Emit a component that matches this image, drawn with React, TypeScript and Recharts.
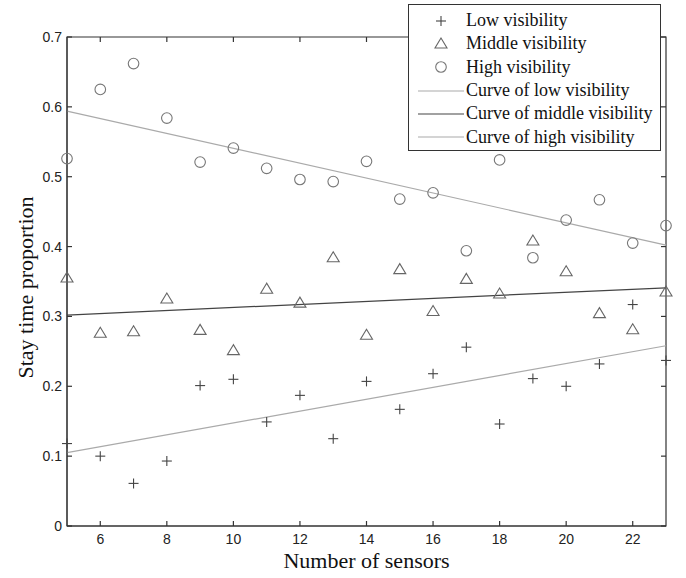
import React from 'react';
import {
  ComposedChart,
  Scatter,
  Line,
  XAxis,
  YAxis,
  Legend,
  Label,
  ReferenceArea,
  ReferenceLine,
} from 'recharts';

// ---- data ----
const sensors = [5, 6, 7, 8, 9, 10, 11, 12, 13, 14, 15, 16, 17, 18, 19, 20, 21, 22, 23];
const lowValues = [0.118, 0.100, 0.061, 0.093, 0.201, 0.210, 0.149, 0.187, 0.125, 0.207, 0.167, 0.218, 0.256, 0.146, 0.211, 0.200, 0.232, 0.317, 0.237];
const middleValues = [0.355, 0.276, 0.278, 0.325, 0.280, 0.251, 0.339, 0.319, 0.384, 0.273, 0.367, 0.307, 0.353, 0.332, 0.408, 0.364, 0.304, 0.281, 0.335];
const highValues = [0.526, 0.625, 0.662, 0.584, 0.521, 0.541, 0.512, 0.496, 0.493, 0.522, 0.468, 0.477, 0.394, 0.524, 0.384, 0.438, 0.467, 0.405, 0.430];

const curveX = [5, 23];
const lowCurve = [0.105, 0.258];
const middleCurve = [0.302, 0.341];
const highCurve = [0.594, 0.402];

const xTicks = [6, 8, 10, 12, 14, 16, 18, 20, 22];
const yTicks = [0, 0.1, 0.2, 0.3, 0.4, 0.5, 0.6, 0.7];

const legendLabels = [
  'Low visibility',
  'Middle visibility',
  'High visibility',
  'Curve of low visibility',
  'Curve of middle visibility',
  'Curve of high visibility',
];

const toPoints = (xs: number[], ys: number[]) => xs.map((x, i) => ({ x, y: ys[i] }));
const lowData = toPoints(sensors, lowValues);
const middleData = toPoints(sensors, middleValues);
const highData = toPoints(sensors, highValues);
const lowCurveData = toPoints(curveX, lowCurve);
const middleCurveData = toPoints(curveX, middleCurve);
const highCurveData = toPoints(curveX, highCurve);

// ---- styles ----
const AXIS = '#333';
const PLUS_C = '#444';
const TRI_C = '#666';
const CIRC_C = '#777';
const LIGHT_LINE = '#aaa';
const DARK_LINE = '#444';
const TICK_LEN = 5;
const SANS = '"Liberation Sans", Arial, sans-serif';
const SERIF = '"Liberation Serif", "Times New Roman", serif';

const PlusShape = (p: any) => {
  const { cx, cy } = p;
  if (cx == null || cy == null) return <g />;
  return (
    <g>
      <line x1={cx - 5} x2={cx + 5} y1={cy} y2={cy} stroke={PLUS_C} strokeWidth={1.1} />
      <line x1={cx} x2={cx} y1={cy - 5} y2={cy + 5} stroke={PLUS_C} strokeWidth={1.1} />
    </g>
  );
};

const TriShape = (p: any) => {
  const { cx, cy } = p;
  if (cx == null || cy == null) return <g />;
  return (
    <polygon
      points={`${cx},${cy - 6} ${cx - 6},${cy + 4} ${cx + 6},${cy + 4}`}
      fill="none"
      stroke={TRI_C}
      strokeWidth={1.1}
    />
  );
};

const CircShape = (p: any) => {
  const { cx, cy } = p;
  if (cx == null || cy == null) return <g />;
  return <circle cx={cx} cy={cy} r={5.3} fill="none" stroke={CIRC_C} strokeWidth={1.1} />;
};

// inward tick marks drawn at both ends of a reference line
const VTickShape = (p: any) => {
  const { x1, y1, y2 } = p;
  if (x1 == null || y1 == null || y2 == null) return <g />;
  const top = Math.min(y1, y2);
  const bot = Math.max(y1, y2);
  return (
    <g>
      <line x1={x1} x2={x1} y1={bot} y2={bot - TICK_LEN} stroke={AXIS} strokeWidth={1.2} />
      <line x1={x1} x2={x1} y1={top} y2={top + TICK_LEN} stroke={AXIS} strokeWidth={1.2} />
    </g>
  );
};

const HTickShape = (p: any) => {
  const { x1, x2, y1 } = p;
  if (x1 == null || x2 == null || y1 == null) return <g />;
  const left = Math.min(x1, x2);
  const right = Math.max(x1, x2);
  return (
    <g>
      <line x1={left} x2={left + TICK_LEN} y1={y1} y2={y1} stroke={AXIS} strokeWidth={1.2} />
      <line x1={right} x2={right - TICK_LEN} y1={y1} y2={y1} stroke={AXIS} strokeWidth={1.2} />
    </g>
  );
};

const legendIcon = (i: number) => {
  const w = 48;
  const h = 20;
  const cx = w / 2;
  const cy = h / 2;
  if (i === 0) return (
    <svg width={w} height={h}>
      <line x1={cx - 5} x2={cx + 5} y1={cy} y2={cy} stroke={PLUS_C} strokeWidth={1.1} />
      <line x1={cx} x2={cx} y1={cy - 5} y2={cy + 5} stroke={PLUS_C} strokeWidth={1.1} />
    </svg>
  );
  if (i === 1) return (
    <svg width={w} height={h}>
      <polygon points={`${cx},${cy - 6} ${cx - 6},${cy + 4} ${cx + 6},${cy + 4}`} fill="none" stroke={TRI_C} strokeWidth={1.1} />
    </svg>
  );
  if (i === 2) return (
    <svg width={w} height={h}>
      <circle cx={cx} cy={cy} r={5.3} fill="none" stroke={CIRC_C} strokeWidth={1.1} />
    </svg>
  );
  const color = i === 4 ? DARK_LINE : LIGHT_LINE;
  return (
    <svg width={w} height={h}>
      <line x1={1} x2={w - 1} y1={cy} y2={cy} stroke={color} strokeWidth={1.2} />
    </svg>
  );
};

const LegendBox = () => (
  <div
    style={{
      boxSizing: 'border-box',
      width: 253,
      height: 147,
      border: '1.2px solid #333',
      background: '#fff',
      paddingTop: 4,
      fontFamily: SERIF,
      fontSize: 18,
      color: '#111',
    }}
  >
    {legendLabels.map((t, i) => (
      <div key={t} style={{ display: 'flex', alignItems: 'center', height: 23.3 }}>
        <div style={{ width: 48, marginLeft: 8, display: 'flex' }}>{legendIcon(i)}</div>
        <span style={{ marginLeft: 1, whiteSpace: 'nowrap', lineHeight: '23px' }}>{t}</span>
      </div>
    ))}
  </div>
);

const YTitle = (props: any) => {
  const vb = props.viewBox || { x: 0, y: 37, width: 67, height: 489 };
  const x = 33;
  const y = vb.y + vb.height / 2 + 6;
  return (
    <text
      x={x}
      y={y}
      transform={`rotate(-90, ${x}, ${y})`}
      textAnchor="middle"
      style={{ fontFamily: SERIF, fontSize: 22, fill: '#111' }}
    >
      Stay time proportion
    </text>
  );
};

const XTitle = (props: any) => {
  const vb = props.viewBox || { x: 67, y: 526, width: 599, height: 52 };
  const x = vb.x + vb.width / 2;
  const y = 568;
  return (
    <text x={x} y={y} textAnchor="middle" style={{ fontFamily: SERIF, fontSize: 22, fill: '#111' }}>
      Number of sensors
    </text>
  );
};

const tickStyle = { fontFamily: SANS, fontSize: 14, fill: '#222' };

export default function App() {
  return (
    <div style={{ position: 'absolute', left: 0, top: 0, background: '#fff' }}>
      <ComposedChart
        width={686}
        height={578}
        margin={{ top: 37, right: 20, bottom: 0, left: 0 }}
        style={{ background: '#fff' }}
      >
        <XAxis
          xAxisId="b"
          dataKey="x"
          type="number"
          domain={[5, 23]}
          ticks={xTicks}
          height={52}
          tickSize={0}
          tickMargin={8}
          tick={tickStyle}
          stroke={AXIS}
          axisLine
          tickLine={false}
        >
          <Label content={<XTitle />} />
        </XAxis>
        <YAxis
          yAxisId="l"
          dataKey="y"
          type="number"
          domain={[0, 0.7]}
          ticks={yTicks}
          width={67}
          tickSize={0}
          tickMargin={5}
          tick={tickStyle}
          stroke={AXIS}
          axisLine
          tickLine={false}
        >
          <Label content={<YTitle />} />
        </YAxis>

        <ReferenceArea xAxisId="b" yAxisId="l" x1={5} x2={23} y1={0} y2={0.7} fill="none" fillOpacity={0} stroke={AXIS} strokeWidth={1.2} ifOverflow="visible" />
        {xTicks.map((v) => (
          <ReferenceLine key={`xt${v}`} xAxisId="b" yAxisId="l" x={v} shape={VTickShape} ifOverflow="visible" />
        ))}
        {yTicks.map((v) => (
          <ReferenceLine key={`yt${v}`} xAxisId="b" yAxisId="l" y={v} shape={HTickShape} ifOverflow="visible" />
        ))}

        <Line xAxisId="b" yAxisId="l" data={lowCurveData} dataKey="y" type="linear" stroke={LIGHT_LINE} strokeWidth={1.2} dot={false} activeDot={false} isAnimationActive={false} legendType="none" />
        <Line xAxisId="b" yAxisId="l" data={middleCurveData} dataKey="y" type="linear" stroke={DARK_LINE} strokeWidth={1.2} dot={false} activeDot={false} isAnimationActive={false} legendType="none" />
        <Line xAxisId="b" yAxisId="l" data={highCurveData} dataKey="y" type="linear" stroke={LIGHT_LINE} strokeWidth={1.2} dot={false} activeDot={false} isAnimationActive={false} legendType="none" />

        <Scatter xAxisId="b" yAxisId="l" data={lowData} dataKey="y" shape={PlusShape} isAnimationActive={false} />
        <Scatter xAxisId="b" yAxisId="l" data={middleData} dataKey="y" shape={TriShape} isAnimationActive={false} />
        <Scatter xAxisId="b" yAxisId="l" data={highData} dataKey="y" shape={CircShape} isAnimationActive={false} />

        <Legend
          layout="vertical"
          align="center"
          verticalAlign="middle"
          content={() => <LegendBox />}
          wrapperStyle={{ left: 408, top: 4, width: 253, height: 147, right: 'auto', bottom: 'auto' }}
        />
      </ComposedChart>
    </div>
  );
}
